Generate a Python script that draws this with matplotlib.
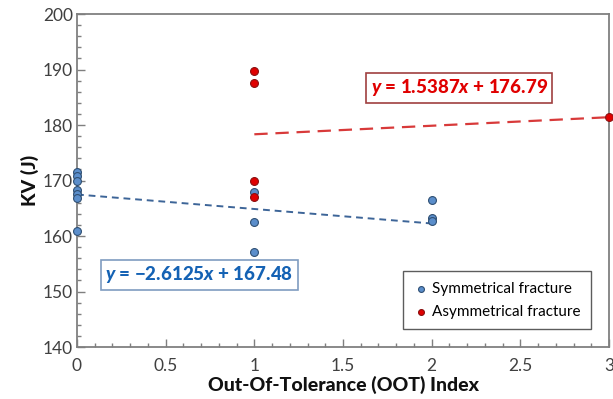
"""
KV vs Out-Of-Tolerance index, symmetrical vs asymmetrical fracture
"""
import matplotlib
matplotlib.use('Agg')
import matplotlib.pyplot as plt
from matplotlib.ticker import MultipleLocator
import numpy as np

plt.rcParams.update({
    'font.family': ['Lato', 'DejaVu Sans'],
    'mathtext.fontset': 'custom',
    'mathtext.it': 'Lato:black:italic',
    'mathtext.rm': 'Lato:black',
    'mathtext.bf': 'Lato:black',
})

# ── Data ────────────────────────────────────────────────────
sym_x = [0, 0, 0, 0, 0, 0, 0, 1, 1, 1, 2, 2, 2]
sym_y = [171.5, 170.9, 169.9, 168.2, 167.6, 166.9, 160.9,
         168.0, 162.6, 157.2, 166.5, 163.3, 162.7]

asym_x = [1, 1, 1, 1, 3]
asym_y = [189.8, 187.5, 170.0, 167.1, 181.5]

# linear fits shown in the chart (slope, intercept)
sym_fit = (-2.6125, 167.48)
asym_fit = (1.5387, 176.79)

xticks = [0, 0.5, 1, 1.5, 2, 2.5, 3]
xticklabels = ['0', '0.5', '1', '1.5', '2', '2.5', '3']
yticks = [140, 150, 160, 170, 180, 190, 200]

BLUE_FILL = '#5b8ecb'
BLUE_EDGE = '#2f4f73'
BLUE_LINE = '#3d6598'
BLUE_TEXT = '#1462b4'
RED_FILL = '#e00000'
RED_EDGE = '#8a1010'
RED_LINE = '#d83a3a'
RED_TEXT = '#e00000'

fig = plt.figure(figsize=(6.13, 3.99), dpi=100)
ax = fig.add_axes([0.1256, 0.1303, 0.8679, 0.8346])

# trend lines
xs = np.array([min(sym_x), max(sym_x)])
ax.plot(xs, sym_fit[0] * xs + sym_fit[1], color=BLUE_LINE, lw=1.4,
        dashes=(3.5, 2.5), zorder=2)
xa = np.array([min(asym_x), max(asym_x)])
ax.plot(xa, asym_fit[0] * xa + asym_fit[1], color=RED_LINE, lw=1.6,
        dashes=(6, 3.5), zorder=2)

ax.scatter(sym_x, sym_y, s=32, color=BLUE_FILL, edgecolor=BLUE_EDGE,
           linewidth=0.8, zorder=3, label='Symmetrical fracture', clip_on=False)
ax.scatter(asym_x, asym_y, s=32, color=RED_FILL, edgecolor=RED_EDGE,
           linewidth=0.8, zorder=3, label='Asymmetrical fracture', clip_on=False)

# equation boxes
ax.text(0.69, 153.0, r'$y$ = −2.6125$x$ + 167.48', color=BLUE_TEXT,
        fontsize=13.5, fontweight='black', ha='center', va='center',
        bbox=dict(boxstyle='square,pad=0.25', fc='white', ec='#7f9cc0', lw=1.2))
ax.text(2.155, 186.7, r'$y$ = 1.5387$x$ + 176.79', color=RED_TEXT,
        fontsize=13.5, fontweight='black', ha='center', va='center',
        bbox=dict(boxstyle='square,pad=0.25', fc='white', ec='#a04040', lw=1.2))

ax.set_xlim(0, 3)
ax.set_ylim(140, 200)
ax.set_xticks(xticks)
ax.set_xticklabels(xticklabels)
ax.set_yticks(yticks)
ax.xaxis.set_minor_locator(MultipleLocator(0.1))
ax.yaxis.set_minor_locator(MultipleLocator(2))
ax.tick_params(which='both', direction='in', colors='#7f7f7f',
               labelcolor='#404040', labelsize=12.5, width=1.0)
ax.tick_params(which='major', length=6)
ax.tick_params(which='minor', length=3)
ax.tick_params(axis='x', which='major', pad=8)
ax.tick_params(axis='y', which='major', pad=3)
for side in ['top', 'right', 'left', 'bottom']:
    ax.spines[side].set_color('#808080')
    ax.spines[side].set_linewidth(1.3)

ax.set_xlabel('Out-Of-Tolerance (OOT) Index', fontsize=14, fontweight='black',
              color='#111111', labelpad=1)
ax.set_ylabel('KV (J)', fontsize=14, fontweight='black', color='#111111',
              labelpad=3)

leg = ax.legend(loc='lower right', bbox_to_anchor=(0.98, 0.03), fontsize=11,
                frameon=True, fancybox=False, edgecolor='#333333',
                handletextpad=0.2, handlelength=1.0, markerscale=0.75,
                borderpad=0.7, labelspacing=0.6)
leg.get_frame().set_linewidth(1.0)

fig.savefig('out.png', dpi=100)
plt.close()
